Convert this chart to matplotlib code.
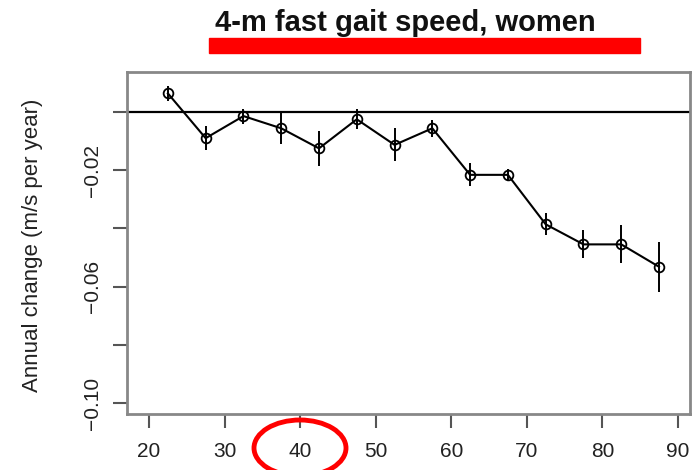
import matplotlib
matplotlib.use("Agg")
import matplotlib.pyplot as plt
from matplotlib.patches import Rectangle, Ellipse

plt.rcParams['font.family'] = ['Liberation Sans', 'DejaVu Sans']

age = [22.5, 27.5, 32.5, 37.5, 42.5, 47.5, 52.5, 57.5, 62.5, 67.5, 72.5, 77.5, 82.5, 87.5]
change = [0.0064, -0.0090, -0.0014, -0.0056, -0.0125, -0.0025, -0.0113, -0.0056,
          -0.0216, -0.0216, -0.0386, -0.0455, -0.0455, -0.0532]
err = [0.0026, 0.0041, 0.0026, 0.0054, 0.0060, 0.0034, 0.0057, 0.0030,
       0.0040, 0.0020, 0.0038, 0.0048, 0.0065, 0.0086]
xticks = [20, 30, 40, 50, 60, 70, 80, 90]
yticks = [0.0, -0.02, -0.04, -0.06, -0.08, -0.10]
ytick_labels = ['', '\u22120.02', '', '\u22120.06', '', '\u22120.10']

W, H = 692, 470
fig = plt.figure(figsize=(W / 100, H / 100), dpi=100)
ax = fig.add_axes([127 / W, 1 - 414 / H, (690 - 127) / W, (414 - 72) / H])

ax.axhline(0, color='black', lw=1.6, zorder=2)
ax.errorbar(age, change, yerr=err, fmt='none', ecolor='black', elinewidth=1.4, zorder=3)
ax.plot(age, change, color='black', lw=1.5, marker='o', ms=7, mfc='none',
        mec='black', mew=1.3, zorder=4)

ax.set_xlim(17.09, 91.6)
ax.set_ylim(-0.1038, 0.01375)
ax.set_xticks(xticks)
ax.set_xticklabels([str(v) for v in xticks])
ax.set_yticks(yticks)
ax.set_yticklabels(ytick_labels, rotation=90, va='center')
ax.tick_params(axis='both', direction='out', length=10, width=1.5, colors='#555555',
               labelcolor='#222222', labelsize=15)
ax.tick_params(axis='x', pad=10)
ax.tick_params(axis='y', pad=8)
for s in ax.spines.values():
    s.set_color('#888888')
    s.set_linewidth(2)

fig.text(33 / W, 1 - 245 / H, 'Annual change (m/s per year)', rotation=90,
         ha='center', va='center', fontsize=16, color='#222222')
fig.text(405 / W, 1 - 23 / H, '4-m fast gait speed, women', ha='center', va='center',
         fontsize=21, fontweight='bold', color='#111111')

fig.patches.append(Rectangle((209 / W, 1 - 53 / H), (640 - 209) / W, 15 / H,
                             transform=fig.transFigure, color='red', zorder=5))
fig.patches.append(Ellipse((300 / W, 1 - 448 / H), 92 / W, 56 / H,
                           transform=fig.transFigure, fill=False, ec='red', lw=3.5, zorder=5))

fig.savefig('out.png', dpi=100)
